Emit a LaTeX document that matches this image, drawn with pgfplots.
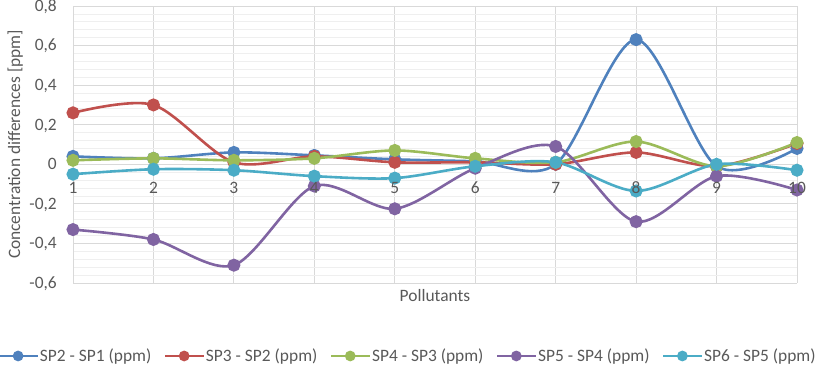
\documentclass[border=0pt]{standalone}
\usepackage{fontspec}
\setmainfont{Carlito}
\usepackage{pgfplots}
\pgfplotsset{compat=1.18}
\definecolor{cblue}{HTML}{4F81BD}
\definecolor{cred}{HTML}{C0504D}
\definecolor{cgreen}{HTML}{9BBB59}
\definecolor{cpurple}{HTML}{8064A2}
\definecolor{ccyan}{HTML}{4BACC6}
\definecolor{txt}{HTML}{595959}
\definecolor{gmaj}{HTML}{D9D9D9}
\definecolor{gmin}{HTML}{EFEFEF}
\newcommand\fs{\fontsize{17.4bp}{20bp}\selectfont}
\begin{document}
\begin{tikzpicture}
\begin{axis}[
  name=ax,
  set layers,
  scale only axis,
  width=724bp, height=277bp,
  xmin=1, xmax=10, ymin=-0.6, ymax=0.8,
  axis x line=middle, axis y line=left,
  hide obscured x ticks=false, hide obscured y ticks=false,
  axis line style={draw=gmaj, line width=0.8bp, -},
  xtick={1,...,10},
  xticklabels={1,2,3,4,5,6,7,8,9,10},
  ytick={-0.6,-0.4,-0.2,0,0.2,0.4,0.6,0.8},
  yticklabels={{-0,6},{-0,4},{-0,2},{0},{0,2},{0,4},{0,6},{0,8}},
  minor y tick num=4,
  major tick length=0pt, minor tick length=0pt,
  xmajorgrids, ymajorgrids, yminorgrids,
  major grid style={draw=gmaj, line width=0.8bp},
  minor grid style={draw=gmin, line width=0.8bp},
  tick label style={font=\fs, text=txt},
  xticklabel style={/pgfplots/on layer=axis foreground},
  yticklabel style={anchor=base east, inner sep=0pt, xshift=-16bp, yshift=-5.4bp},
  xticklabel style={anchor=base, inner sep=0pt, yshift=-29bp},
  xlabel={Pollutants},
  ylabel={Concentration differences [ppm]},
  label style={font=\fs, text=txt},
  xlabel style={at={(axis description cs:0.5,0)}, anchor=base, inner sep=0pt, yshift=-19bp},
  ylabel style={at={(axis description cs:-0.0732,0.5)}, anchor=base, inner sep=0pt},
  clip=false,
  every axis plot/.append style={line width=2.6bp, smooth, tension=0.5, mark=*, mark size=5.2bp},
  legend columns=5,
  legend cell align=left,
  legend style={at={(axis description cs:0.462,-0.2635)}, anchor=center, draw=none, fill=none,
    font=\fs, text=txt, nodes={inner sep=1.5bp},
    /tikz/every even column/.append style={column sep=11bp}},
  legend image code/.code={\draw[mark repeat=2,mark phase=2,#1,mark size=4bp] plot coordinates {(0bp,0bp) (19bp,0bp) (38bp,0bp)};},
]
\addplot[color=cblue, mark options={fill=cblue}] coordinates {(1,0.04) (2,0.03) (3,0.06) (4,0.045) (5,0.025) (6,0.015) (7,0.0) (8,0.63) (9,-0.01) (10,0.08)};
\addlegendentry{SP2 - SP1 (ppm)}
\addplot[color=cred, mark options={fill=cred}] coordinates {(1,0.26) (2,0.30) (3,0.01) (4,0.04) (5,0.01) (6,0.01) (7,0.0) (8,0.06) (9,-0.01) (10,0.105)};
\addlegendentry{SP3 - SP2 (ppm)}
\addplot[color=cgreen, mark options={fill=cgreen}] coordinates {(1,0.02) (2,0.03) (3,0.02) (4,0.03) (5,0.07) (6,0.03) (7,0.01) (8,0.115) (9,-0.01) (10,0.11)};
\addlegendentry{SP4 - SP3 (ppm)}
\addplot[color=cpurple, mark options={fill=cpurple}] coordinates {(1,-0.33) (2,-0.38) (3,-0.51) (4,-0.11) (5,-0.225) (6,-0.02) (7,0.09) (8,-0.29) (9,-0.06) (10,-0.13)};
\addlegendentry{SP5 - SP4 (ppm)}
\addplot[color=ccyan, mark options={fill=ccyan}] coordinates {(1,-0.05) (2,-0.025) (3,-0.03) (4,-0.06) (5,-0.07) (6,-0.01) (7,0.01) (8,-0.135) (9,0.0) (10,-0.03)};
\addlegendentry{SP6 - SP5 (ppm)}
\end{axis}
\pgfresetboundingbox
\path[use as bounding box] ([shift={(-73bp,-83bp)}]ax.south west) rectangle ([shift={(18bp,6bp)}]ax.north east);
\end{tikzpicture}
\end{document}
